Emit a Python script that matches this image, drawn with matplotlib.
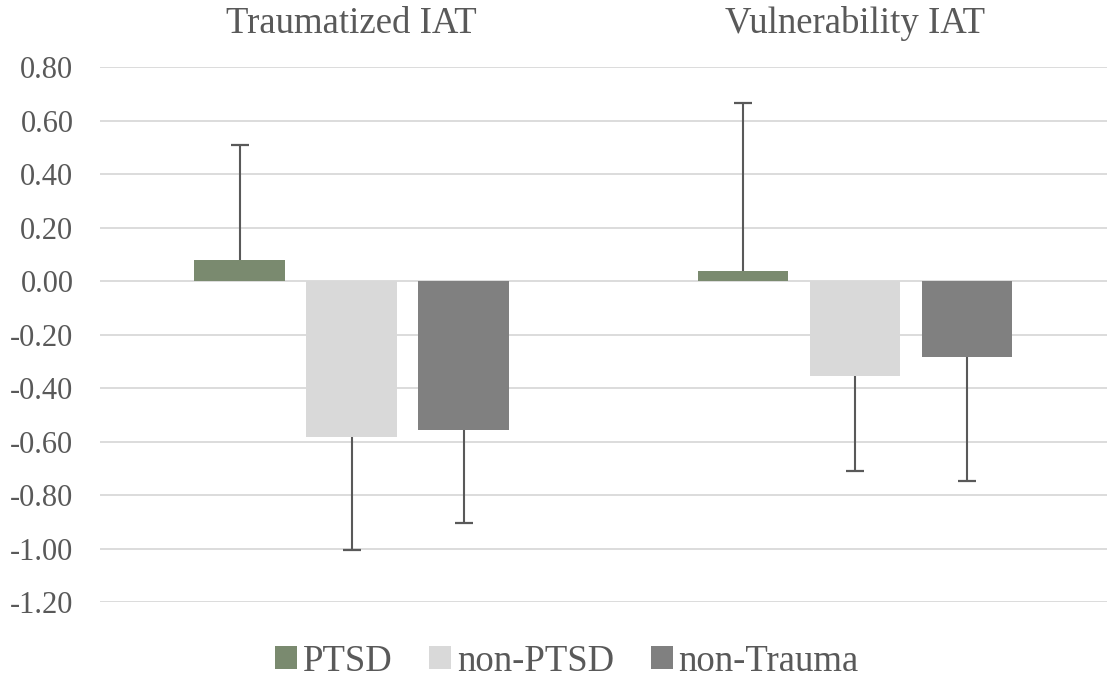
import numpy as np
import matplotlib.pyplot as plt
from matplotlib.patches import Patch

categories = ["Traumatized IAT", "Vulnerability IAT"]
groups = ["PTSD", "non-PTSD", "non-Trauma"]
means = {
    "PTSD": [0.08, 0.037],
    "non-PTSD": [-0.583, -0.355],
    "non-Trauma": [-0.557, -0.284],
}
errs = {
    "PTSD": [0.43, 0.628],
    "non-PTSD": [0.423, 0.355],
    "non-Trauma": [0.348, 0.464],
}
colors = {"PTSD": "#7a8a6f", "non-PTSD": "#d9d9d9", "non-Trauma": "#808080"}
yticks = [0.8, 0.6, 0.4, 0.2, 0.0, -0.2, -0.4, -0.6, -0.8, -1.0, -1.2]

plt.rcParams['font.family'] = ['Liberation Serif', 'DejaVu Serif']
txt = "#595959"

fig = plt.figure(figsize=(11.09, 6.81), dpi=100)
ax = fig.add_axes([0.090, 0.116, 0.908, 0.7856])

x = np.arange(len(categories))
w = 0.18
step = 0.2225
for i, g in enumerate(groups):
    pos = x + (i - 1) * step
    vals = np.array(means[g])
    e = np.array(errs[g])
    lower = np.where(vals < 0, e, 0)
    upper = np.where(vals >= 0, e, 0)
    ax.bar(pos, vals, width=w, color=colors[g], zorder=2)
    ax.errorbar(pos, vals, yerr=[lower, upper], fmt='none', ecolor="#595959",
                elinewidth=1.5, capsize=0, zorder=3)
    # cap only at the outer end of each bar
    ends = np.where(vals >= 0, vals + e, vals - e)
    ax.plot(pos, ends, linestyle='none', marker='_', markersize=13,
            markeredgewidth=1.6, color="#595959", zorder=3)

ax.set_xlim(-0.5, 1.5)
ax.set_ylim(-1.2, 0.8)
ax.set_yticks(yticks)
ax.set_yticklabels([f"{v:.2f}" for v in yticks], fontsize=22, color=txt)
ax.yaxis.grid(True, color="#d9d9d9", linewidth=1.3, zorder=0)
ax.tick_params(axis='y', length=0, pad=19)
ax.tick_params(axis='x', length=0)
ax.xaxis.tick_top()
ax.set_xticks(x)
ax.set_xticklabels(categories, fontsize=26.5, color=txt)
ax.tick_params(axis='x', pad=19)
for s in ax.spines.values():
    s.set_visible(False)

handles = [Patch(facecolor=colors[g], label=g) for g in groups]
fig.legend(handles=handles, loc='center', bbox_to_anchor=(0.511, 0.029), ncol=3,
           frameon=False, fontsize=26.5, handlelength=0.6, handleheight=0.6,
           handletextpad=0.15, columnspacing=1.0, labelcolor=txt,
           borderpad=0, borderaxespad=0)

fig.savefig("out.png", dpi=100)
